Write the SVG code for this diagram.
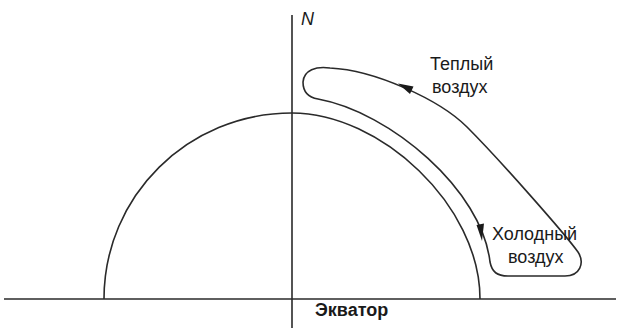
<svg xmlns="http://www.w3.org/2000/svg" width="622" height="328" viewBox="0 0 622 328">
<style>
.ln{fill:none;stroke:#2a2a2a;stroke-width:1.6}
.t{font-family:"Liberation Sans",Arial,sans-serif;font-size:18px;fill:#1a1a1a}
.ah{fill:#1a1a1a}
</style>
<rect width="622" height="328" fill="#fff"/>
<g id="axes">
<line class="ln" x1="292" y1="15" x2="292" y2="328"/>
<line class="ln" x1="4" y1="299" x2="616" y2="299"/>
<text class="t" x="301" y="25" font-style="italic" font-size="16">N</text>
</g>
<g id="globe">
<path class="ln" d="M104,299 C104,196 188,113 292,113 C380,113 480,205 480,299"/>
</g>
<g id="connectors">
<path class="ln" d="M318,99 C390,112 482,190 490,262 C492,272 497,276 508,276 L565,276 C580,276 585,263 578,252 C565,234 500,160 467,127 C440,100 375,70 330,68 C316,66 304,70 303,82 C303,95 312,98 318,99 Z"/>
<polygon class="ah" points="398,83.5 413.5,86.5 410,94"/>
<polygon class="ah" points="482,241 476.5,225 484,223.5"/>
</g>
<g id="warm">
<text class="t" x="430" y="70">Теплый</text>
<text class="t" x="432" y="93">воздух</text>
</g>
<g id="cold">
<text class="t" x="492" y="240">Холодный</text>
<text class="t" x="508" y="263">воздух</text>
</g>
<g id="equator">
<text class="t" x="315" y="316" font-weight="bold">Экватор</text>
</g>
</svg>
